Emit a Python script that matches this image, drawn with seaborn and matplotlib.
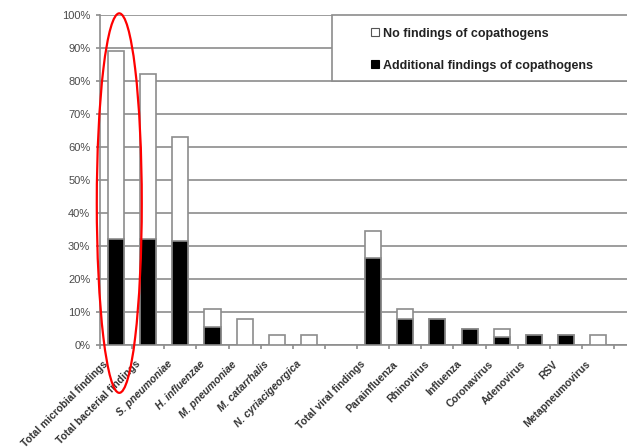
import numpy as np
import pandas as pd
import matplotlib
matplotlib.use("Agg")
import matplotlib.pyplot as plt
import matplotlib.transforms as mtransforms
from matplotlib.patches import Ellipse, Rectangle, Patch
import seaborn as sns

sns.set_style("white")
plt.rcParams["font.family"] = ["Liberation Sans", "DejaVu Sans"]

# data (percent of patients)
categories = ["Total microbial findings", "Total bacterial findings", "S. pneumoniae",
              "H. influenzae", "M. pneumoniae", "M. catarrhalis", "N. cyriacigeorgica", " ",
              "Total viral findings", "Parainfluenza", "Rhinovirus", "Influenza",
              "Coronavirus", "Adenovirus", "RSV", "Metapneumovirus"]
total = [89, 82, 63, 11, 8, 3, 3, np.nan, 34.5, 11, 8, 5, 5, 3, 3, 3]
with_copathogens = [32, 32, 31.5, 5.5, np.nan, np.nan, np.nan, np.nan,
                    26.5, 8, 8, 5, 2.5, 3, 3, np.nan]
italic_labels = ["S. pneumoniae", "H. influenzae", "M. pneumoniae",
                 "M. catarrhalis", "N. cyriacigeorgica"]

df = pd.DataFrame({"category": categories, "total": total,
                   "additional": with_copathogens})

grey = "#8c8c8c"
fig = plt.figure(figsize=(6.27, 4.48), dpi=100)
ax = fig.add_axes([100 / 627, 103 / 448, 527 / 627, 330 / 448])

# white part = all findings, black part drawn over it
sns.barplot(data=df, x="category", y="total", order=categories, color="white",
            edgecolor=grey, linewidth=1.2, width=0.5, saturation=1, ax=ax, zorder=3)
sns.barplot(data=df, x="category", y="additional", order=categories, color="black",
            edgecolor=grey, linewidth=1.2, width=0.5, saturation=1, ax=ax, zorder=4)

ax.set_ylim(0, 100)
ax.set_xlim(-0.5, 15.9)
ax.set_yticks(np.arange(0, 101, 10))
ax.set_yticklabels([f"{v}%" for v in range(0, 101, 10)], fontsize=8, color="#4a4a4a")
ax.yaxis.grid(True, color=grey, linewidth=1.2, zorder=0)
ax.set_axisbelow(True)
ax.set_xlabel("")
ax.set_ylabel("")

for side in ["top", "right"]:
    ax.spines[side].set_visible(False)
for side in ["left", "bottom"]:
    ax.spines[side].set_color(grey)
    ax.spines[side].set_linewidth(1.2)

ax.tick_params(axis="y", left=True, length=3, width=1.2, color=grey, pad=4)
ax.set_xticks(np.arange(len(categories) + 1) - 0.5, minor=True)
ax.tick_params(axis="x", which="minor", bottom=True, length=3, width=1.2, color=grey)
ax.tick_params(axis="x", which="major", bottom=False, length=0)
ax.set_xticks(range(len(categories)))
ax.set_xticklabels([])

# rotated category labels, ending a little left of and below each slot centre
offset = mtransforms.ScaledTranslation(-13 / 100, -14 / 100, fig.dpi_scale_trans)
lab_tr = ax.get_xaxis_transform() + offset
for i, name in enumerate(categories):
    ax.text(i, 0, name, transform=lab_tr, rotation=45, ha="right", va="top",
            rotation_mode="anchor", fontsize=7.5, fontweight="bold", color="#333333",
            fontstyle="italic" if name in italic_labels else "normal")

# legend box
ax.add_patch(Rectangle((0.44, 0.8), 0.6, 0.2, transform=ax.transAxes, facecolor="white",
                       edgecolor=grey, linewidth=1.2, zorder=5, clip_on=False))
handles = [Patch(facecolor="white", edgecolor="#555555", linewidth=0.8),
           Patch(facecolor="black", edgecolor="black", linewidth=0.8)]
leg = ax.legend(handles, ["No findings of copathogens", "Additional findings of copathogens"],
                loc="upper left", bbox_to_anchor=(0.495, 0.992), frameon=False,
                handlelength=0.65, handleheight=0.65, handletextpad=0.35,
                labelspacing=1.6, borderpad=0.3,
                prop={"size": 9, "weight": "bold"})
leg.set_zorder(6)
for t in leg.get_texts():
    t.set_color("#222222")

# red highlight around the first bar
ax.add_patch(Ellipse((0.1, 43), 1.4, 115, fill=False, edgecolor="red",
                     linewidth=1.6, zorder=7, clip_on=False))

fig.savefig("out.png", dpi=100)
